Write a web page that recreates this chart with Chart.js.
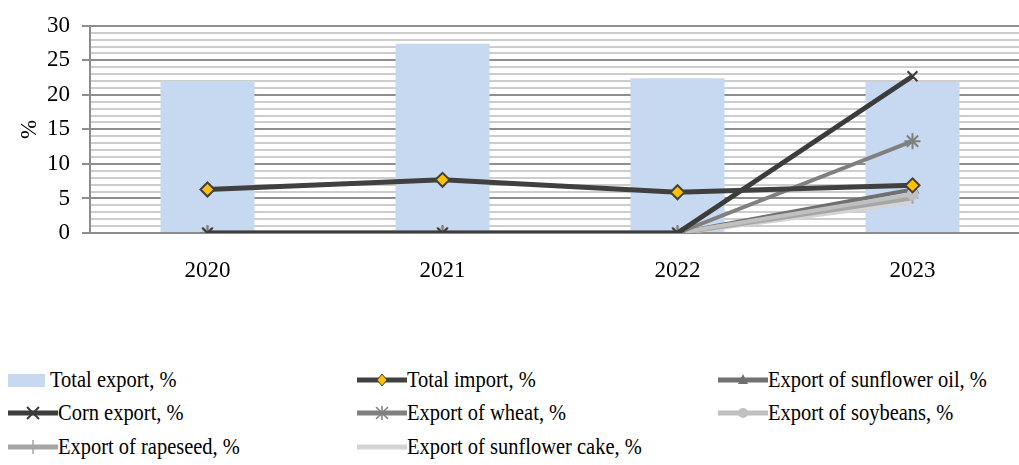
<!DOCTYPE html>
<html>
<head>
<meta charset="utf-8">
<script src="https://cdn.jsdelivr.net/npm/chart.js@4"></script>
<style>
  html, body { margin: 0; padding: 0; background: #fff; overflow: hidden; }
  #wrap { position: relative; width: 1019px; height: 465px; overflow: hidden; }
  #chart { position: absolute; left: 0; top: 0; }
  #legend { position: absolute; left: 0; top: 0; color: #000; }
  .item { position: absolute; height: 26px; display: flex; align-items: center; white-space: nowrap; font-family: 'Liberation Serif'; font-size: 23px; }
  .item svg { flex: none; }
  .item span { display: inline-block; transform: scaleX(0.89); transform-origin: left center; }
</style>
</head>
<body>
<div id="wrap">
  <canvas id="chart" width="1040" height="300"></canvas>
  <div id="legend"></div>
</div>
<script>
// Categorias e séries
const years = ['2020', '2021', '2022', '2023'];
const totalExport = [22.0, 27.4, 22.4, 21.9];
const totalImport = [6.3, 7.7, 5.9, 6.9];
const sunflowerOil = [0, 0, 0, 6.3];
const cornExport = [0, 0, 0, 22.7];
const wheatExport = [0, 0, 0, 13.3];
const soybeansExport = [0, 0, 0, 5.6];
const rapeseedExport = [0, 0, 0, 5.1];
const sunflowerCake = [0, 0, 0, 4.5];
const yTicks = [0, 5, 10, 15, 20, 25, 30];

Chart.defaults.font.family = "'Liberation Serif'";
Chart.defaults.color = '#000';

function lineSet(label, data, color, width, style, radius, fill, order) {
    return {
        type: 'line',
        label: label,
        data: data,
        borderColor: color,
        borderWidth: width,
        pointStyle: style,
        pointRadius: radius,
        pointHoverRadius: radius,
        pointBackgroundColor: fill || color,
        pointBorderColor: color,
        pointBorderWidth: 2,
        tension: 0,
        order: order
    };
}

const ctx = document.getElementById('chart').getContext('2d');
const chart = new Chart(ctx, {
    type: 'bar',
    data: {
        labels: years,
        datasets: [
            {
                label: 'Total export, %',
                data: totalExport,
                backgroundColor: '#c6d9f1',
                categoryPercentage: 1,
                barPercentage: 0.4,
                order: 20
            },
            lineSet('Total import, %', totalImport, '#404040', 5, 'rectRot', 7, '#ffc000', 1),
            lineSet('Export of sunflower oil, %', sunflowerOil, '#707070', 4, 'triangle', 6, null, 6),
            lineSet('Corn export, %', cornExport, '#3c3c3c', 5, 'crossRot', 7, null, 2),
            lineSet('Export of wheat, %', wheatExport, '#808080', 4, 'star', 8, null, 3),
            lineSet('Export of soybeans, %', soybeansExport, '#c0c0c0', 4, 'circle', 5, null, 4),
            lineSet('Export of rapeseed, %', rapeseedExport, '#a6a6a6', 5, 'cross', 6, null, 5),
            lineSet('Export of sunflower cake, %', sunflowerCake, '#d4d4d4', 5, false, 0, null, 7)
        ]
    },
    options: {
        responsive: false,
        animation: false,
        layout: { padding: { top: 16, right: 6, left: 0, bottom: 0 } },
        plugins: {
            legend: { display: false },
            tooltip: { enabled: false }
        },
        scales: {
            x: {
                grid: { display: false },
                border: { display: true, color: '#8c8c8c', width: 2 },
                ticks: { font: { size: 23 }, padding: 16 },
                afterFit: (scale) => { scale.height = 67; }
            },
            y: {
                min: 0,
                max: 30,
                afterFit: (scale) => { scale.width = 90; },
                border: { color: '#8c8c8c', width: 2 },
                grid: {
                    color: (c) => (c.tick && c.tick.value % 5 === 0) ? '#8e8e8e' : '#cdcdcd',
                    lineWidth: 2,
                    tickLength: 8,
                    tickColor: (c) => (c.tick && c.tick.value % 5 === 0) ? '#8e8e8e' : 'rgba(0,0,0,0)'
                },
                ticks: {
                    stepSize: 1,
                    autoSkip: false,
                    padding: 12,
                    font: { size: 23 },
                    callback: (v) => yTicks.includes(v) ? String(v) : ''
                },
                title: {
                    display: true,
                    text: '%',
                    font: { size: 23 },
                    padding: { top: 16, bottom: 0 }
                }
            }
        }
    }
});

// Legenda em HTML (3 colunas, como no original)
const colLeft = [8, 357, 718];
const rowTop = [367, 400, 434];

function markerSvg(ds) {
    const c = ds.borderColor;
    const y = 8;
    const x = 25;
    switch (ds.pointStyle) {
        case 'rectRot':
            return `<polygon points="${x},${y - 6} ${x + 5},${y} ${x},${y + 6} ${x - 5},${y}" fill="${ds.pointBackgroundColor}" stroke="${c}" stroke-width="1"/>`;
        case 'triangle':
            return `<polygon points="${x},${y - 6} ${x + 5},${y + 4} ${x - 5},${y + 4}" fill="${c}"/>`;
        case 'crossRot':
            return `<path d="M${x - 6} ${y - 6}L${x + 6} ${y + 6}M${x + 6} ${y - 6}L${x - 6} ${y + 6}" stroke="${c}" stroke-width="2"/>`;
        case 'star':
            return `<path d="M${x - 6} ${y - 6}L${x + 6} ${y + 6}M${x + 6} ${y - 6}L${x - 6} ${y + 6}M${x} ${y - 7}L${x} ${y + 7}" stroke="${c}" stroke-width="1.5"/>`;
        case 'circle':
            return `<circle cx="${x}" cy="${y}" r="5" fill="${c}"/>`;
        case 'cross':
            return `<path d="M${x} ${y - 7}L${x} ${y + 7}" stroke="${c}" stroke-width="1.5"/>`;
        default:
            return '';
    }
}

const legend = document.getElementById('legend');
chart.data.datasets.forEach((ds, i) => {
    const item = document.createElement('div');
    item.className = 'item';
    item.style.left = colLeft[i % 3] + 'px';
    item.style.top = rowTop[Math.floor(i / 3)] + 'px';
    let svg;
    if (ds.type === 'line') {
        svg = `<svg width="50" height="16"><line x1="0" y1="8" x2="50" y2="8" stroke="${ds.borderColor}" stroke-width="5"/>${markerSvg(ds)}</svg>`;
    } else {
        svg = `<svg width="42" height="16"><rect x="0" y="2" width="37" height="13" fill="${ds.backgroundColor}"/></svg>`;
    }
    item.innerHTML = svg + '<span>' + ds.label + '</span>';
    legend.appendChild(item);
});
</script>
</body>
</html>
